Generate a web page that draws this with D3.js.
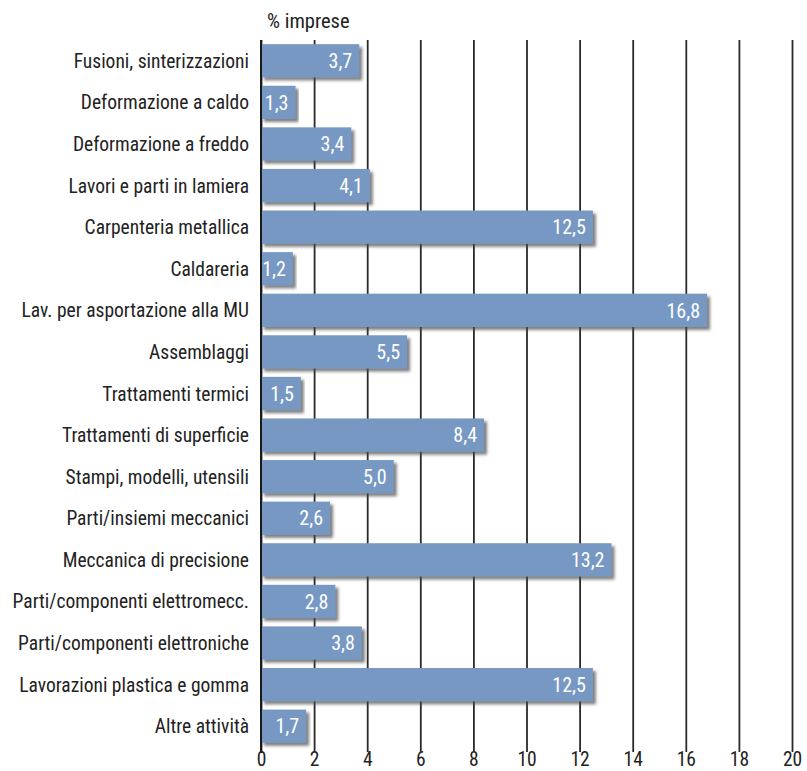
<!DOCTYPE html>
<html>
<head>
<meta charset="utf-8">
<script src="https://cdn.jsdelivr.net/npm/d3@7"></script>
<style>
  html, body { margin: 0; padding: 0; background: #fff; }
  svg { display: block; }
  text { font-family: "Liberation Sans Narrow", "Roboto Condensed", "Arial Narrow", sans-serif; }
</style>
</head>
<body>
<svg id="chart" width="807" height="771"></svg>
<script>
// Attività svolte dalle imprese (% imprese)
const categories = [
  "Fusioni, sinterizzazioni",
  "Deformazione a caldo",
  "Deformazione a freddo",
  "Lavori e parti in lamiera",
  "Carpenteria metallica",
  "Caldareria",
  "Lav. per asportazione alla MU",
  "Assemblaggi",
  "Trattamenti termici",
  "Trattamenti di superficie",
  "Stampi, modelli, utensili",
  "Parti/insiemi meccanici",
  "Meccanica di precisione",
  "Parti/componenti elettromecc.",
  "Parti/componenti elettroniche",
  "Lavorazioni plastica e gomma",
  "Altre attività"
];
const values = [3.7, 1.3, 3.4, 4.1, 12.5, 1.2, 16.8, 5.5, 1.5, 8.4, 5.0, 2.6, 13.2, 2.8, 3.8, 12.5, 1.7];
const tickValues = [0, 2, 4, 6, 8, 10, 12, 14, 16, 18, 20];
const axisTitle = "% imprese";

const svg = d3.select("#chart");
const fmt = v => d3.format(".1f")(v).replace(".", ",");

const x = d3.scaleLinear().domain([0, 20]).range([261, 792]);
const y = d3.scaleBand().domain(categories).range([40, 747]).paddingInner(0.2).paddingOuter(0.1);

// soft drop shadow under each bar
const defs = svg.append("defs");
const f = defs.append("filter").attr("id", "shadow")
  .attr("x", "-5%").attr("y", "-20%").attr("width", "115%").attr("height", "160%");
f.append("feDropShadow").attr("dx", 3).attr("dy", 3).attr("stdDeviation", 1.7)
  .attr("flood-color", "#4a4a4a").attr("flood-opacity", 0.7);

// vertical gridlines with tick labels at the bottom
const gridBottom = 752;
const xAxis = d3.axisBottom(x).tickValues(tickValues).tickSize(gridBottom - 40).tickFormat(d3.format("d"));
const gx = svg.append("g").attr("transform", "translate(0,40)").call(xAxis);
gx.select(".domain").remove();
gx.selectAll(".tick line").attr("stroke", "#2a2a2a").attr("stroke-width", 1.8);
gx.selectAll(".tick text")
  .attr("y", 0).attr("dy", 0)
  .attr("transform", "translate(0," + (766 - 40) + ")")
  .attr("fill", "#222").attr("font-size", 19.5);

// bars
svg.append("g").selectAll("rect").data(values).join("rect")
  .attr("x", x(0))
  .attr("y", (d, i) => y(categories[i]))
  .attr("width", d => x(d) - x(0))
  .attr("height", y.bandwidth())
  .attr("fill", "#7698c3")
  .attr("filter", "url(#shadow)");

// zero line on top of the bars
svg.append("line")
  .attr("x1", x(0)).attr("x2", x(0)).attr("y1", 40).attr("y2", gridBottom + 1)
  .attr("stroke", "#1a1a1a").attr("stroke-width", 2);

// value labels inside the bar ends
svg.append("g").selectAll("text").data(values).join("text")
  .attr("x", d => x(d) - 7)
  .attr("y", (d, i) => y(categories[i]) + y.bandwidth() / 2)
  .attr("dy", "0.36em")
  .attr("text-anchor", "end")
  .attr("fill", "#fff")
  .attr("font-size", 20)
  .text(d => fmt(d));

// category labels
svg.append("g").selectAll("text").data(categories).join("text")
  .attr("x", 249)
  .attr("y", d => y(d) + y.bandwidth() / 2)
  .attr("dy", "0.36em")
  .attr("text-anchor", "end")
  .attr("fill", "#222")
  .attr("font-size", 19.5)
  .text(d => d);

// axis title
svg.append("text")
  .attr("x", 267).attr("y", 28)
  .attr("fill", "#222").attr("font-size", 20.5)
  .text(axisTitle);
</script>
</body>
</html>
